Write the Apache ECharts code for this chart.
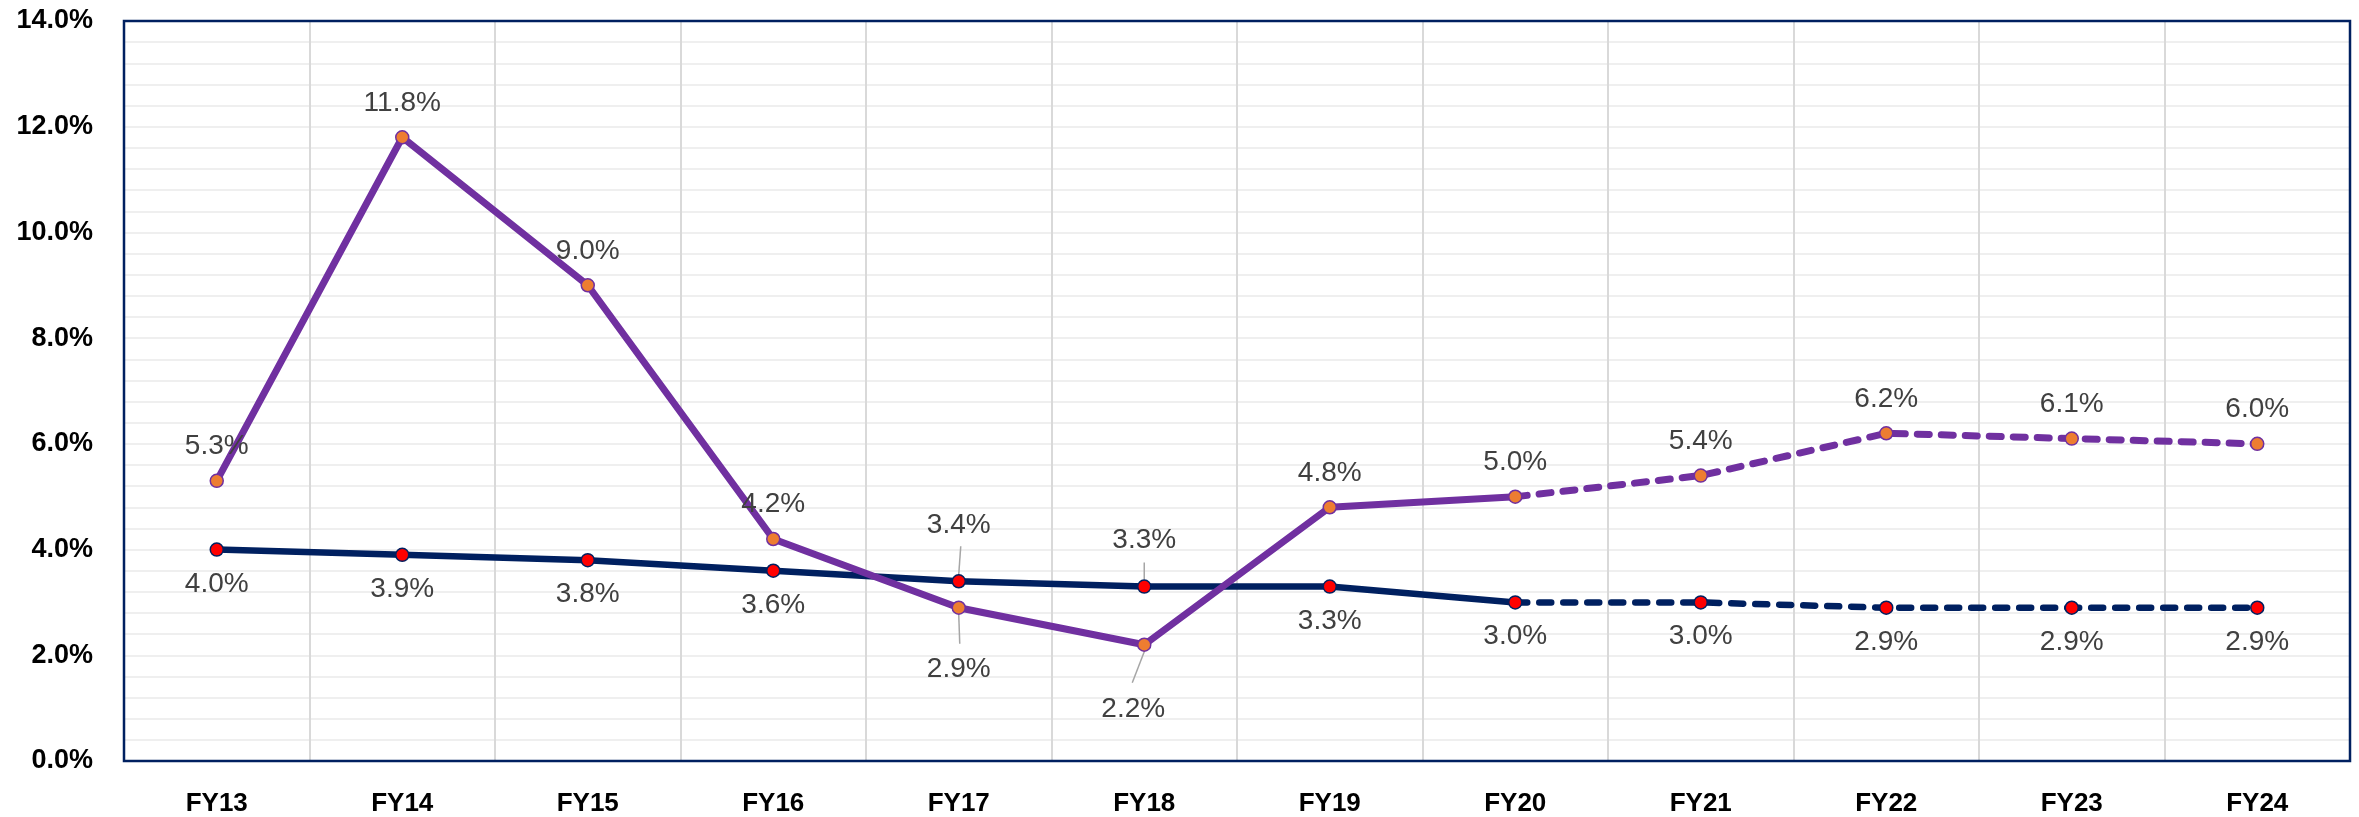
<!DOCTYPE html>
<html>
<head>
<meta charset="utf-8">
<script src="https://cdn.jsdelivr.net/npm/echarts@6/dist/echarts.min.js"></script>
<style>html,body{margin:0;padding:0;background:#fff}#c{width:2359px;height:817px}</style>
</head>
<body>
<div id="c"></div>
<script>
const categories = ['FY13','FY14','FY15','FY16','FY17','FY18','FY19','FY20','FY21','FY22','FY23','FY24'];
const purpleValues = [5.3, 11.8, 9.0, 4.2, 2.9, 2.2, 4.8, 5.0, 5.4, 6.2, 6.1, 6.0];
const navyValues   = [4.0, 3.9, 3.8, 3.6, 3.4, 3.3, 3.3, 3.0, 3.0, 2.9, 2.9, 2.9];
const forecastStart = 7; // FY20 onward dashed
const leaderIndices = [4, 5]; // FY17, FY18 labels moved with leader lines

const FONT = 'Liberation Sans';
const PURPLE = '#7030A0', NAVY = '#002060';

// label layout (styling) for the moved labels
const purpleLabelOverrides = {
  4: {position: 'bottom', distance: 40},
  5: {position: 'bottom', distance: 43, offset: [-11, 0]}
};
const navyLabelOverrides = {
  4: {position: 'top', distance: 35},
  5: {position: 'top', distance: 25}
};
// leader geometry in pixels relative to the point: dir, start, end, end dx
const purpleLeader = {4: [1, 7, 36, 1], 5: [1, 7, 38, -12]};
const navyLeader   = {4: [-1, 7, 35, 2], 5: [-1, 7, 24, 0]};

function buildData(values, part, overrides) {
  return values.map((v, i) => {
    const inPart = part === 'solid' ? i <= forecastStart : i >= forecastStart;
    if (!inPart) return '-';
    const item = {value: v};
    if (part === 'dash' && i === forecastStart) {
      item.label = {show: false};
      item.symbol = 'none';
    }
    if (overrides[i]) item.label = Object.assign({}, overrides[i]);
    return item;
  });
}

function makeSeries(name, values, part, color, fill, width, defaultPos, overrides) {
  return {
    name: name,
    type: 'line',
    data: buildData(values, part, overrides),
    symbol: 'circle',
    symbolSize: 13,
    connectNulls: false,
    animation: false,
    lineStyle: {color: color, width: width, type: part === 'dash' ? [12, 12] : 'solid', cap: 'round'},
    itemStyle: {color: fill, borderColor: color, borderWidth: 1.5},
    label: {
      show: true,
      position: defaultPos,
      distance: 13,
      fontFamily: FONT,
      fontSize: 28,
      color: '#404040',
      formatter: p => p.value.toFixed(1) + '%'
    }
  };
}

function leaderSeries(values, geom) {
  return {
    type: 'custom',
    animation: false,
    silent: true,
    z: 1,
    data: leaderIndices.map(i => [i, values[i]]),
    renderItem: function (params, api) {
      const idx = api.value(0);
      const p = api.coord([idx, api.value(1)]);
      const g = geom[idx];
      return {
        type: 'line',
        shape: {x1: p[0], y1: p[1] + g[0] * g[1], x2: p[0] + g[3], y2: p[1] + g[0] * g[2]},
        style: {stroke: '#a6a6a6', lineWidth: 1.5}
      };
    }
  };
}

const chart = echarts.init(document.getElementById('c'));
chart.setOption({
  animation: false,
  grid: {left: 124, right: 9, top: 21, bottom: 55, show: true, z: 1, borderColor: NAVY, borderWidth: 2.5, backgroundColor: 'transparent'},
  xAxis: {
    type: 'category',
    data: categories,
    boundaryGap: true,
    axisLine: {show: false},
    axisTick: {show: false},
    axisLabel: {fontFamily: FONT, fontSize: 26, fontWeight: 'bold', color: '#000', margin: 30},
    splitLine: {show: true, interval: 0, lineStyle: {color: '#d9d9d9', width: 2}}
  },
  yAxis: {
    type: 'value',
    min: 0, max: 14, interval: 2,
    axisLine: {show: false},
    axisTick: {show: false},
    axisLabel: {fontFamily: FONT, fontSize: 27, fontWeight: 'bold', color: '#000', margin: 31, formatter: v => v.toFixed(1) + '%'},
    splitLine: {show: true, lineStyle: {color: '#efefef', width: 2}},
    minorTick: {show: false, splitNumber: 5},
    minorSplitLine: {show: true, lineStyle: {color: '#efefef', width: 2}}
  },
  series: [
    makeSeries('navy', navyValues, 'solid', NAVY, '#FF0000', 6.5, 'bottom', navyLabelOverrides),
    makeSeries('navyF', navyValues, 'dash', NAVY, '#FF0000', 6.5, 'bottom', navyLabelOverrides),
    makeSeries('purple', purpleValues, 'solid', PURPLE, '#ED7D31', 7, 'top', purpleLabelOverrides),
    makeSeries('purpleF', purpleValues, 'dash', PURPLE, '#ED7D31', 7, 'top', purpleLabelOverrides),
    leaderSeries(navyValues, navyLeader),
    leaderSeries(purpleValues, purpleLeader)
  ]
});
</script>
</body>
</html>
